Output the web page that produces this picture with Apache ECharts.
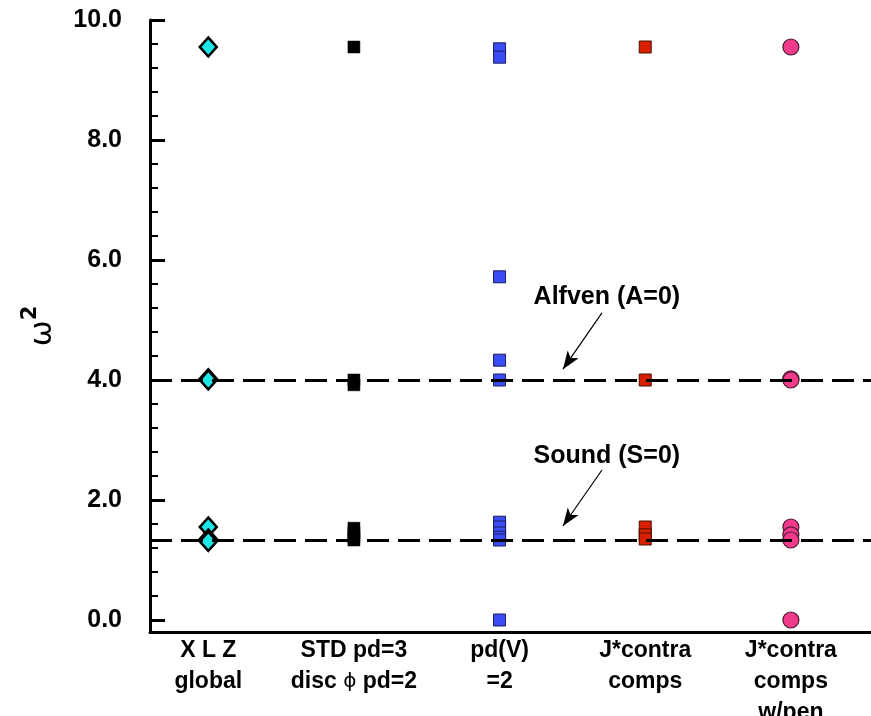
<!DOCTYPE html>
<html>
<head>
<meta charset="utf-8">
<script src="https://cdn.jsdelivr.net/npm/echarts@6/dist/echarts.min.js"></script>
<style>
  html, body { margin: 0; padding: 0; background: #fff; }
  #chart { width: 871px; height: 716px; }
</style>
</head>
<body>
<div id="chart"></div>
<script>
// Eigenvalue spectra (omega^2) for five discretisation variants
const categories = ['X L Z\nglobal', 'STD pd=3\ndisc ϕ pd=2', 'pd(V)\n=2', 'J*contra\ncomps', 'J*contra\ncomps\nw/pen'];
const xlzValues = [9.55, 4.02, 4.0, 1.55, 1.35, 1.333, 1.31];
const stdValues = [9.55, 4.0, 3.92, 1.53, 1.45, 1.38, 1.333];
const pdvValues = [9.52, 9.38, 5.72, 4.33, 4.0, 1.63, 1.55, 1.45, 1.38, 1.333, 0.0];
const jcValues = [9.55, 4.0, 1.55, 1.42, 1.35];
const jpValues = [9.55, 4.02, 4.0, 1.55, 1.42, 1.333, 0.0];

const yMajorTicks = [0, 2, 4, 6, 8, 10];
const yMinorTicks = [0.4, 0.8, 1.2, 1.6, 2.4, 2.8, 3.2, 3.6, 4.4, 4.8, 5.2, 5.6, 6.4, 6.8, 7.2, 7.6, 8.4, 8.8, 9.2, 9.6];

// continuum limits
const alfvenLevel = 4.0;
const soundLevel = 4 / 3;

// annotation anchors, in data units
const alfvenText = [3.23, 5.38];
const alfvenArrow = [[3.703, 5.12], [3.435, 4.18]];
const soundText = [3.23, 2.73];
const soundArrow = [[3.703, 2.5], [3.435, 1.567]];

const toPoints = (pos, vals) => vals.map(v => [pos, v]);

const chart = echarts.init(document.getElementById('chart'));

const labelFont = "'Liberation Sans', Arial, Helvetica, sans-serif";
const dashStyle = { type: [22, 9], width: 3, color: '#000' };
const arrowStyle = { type: 'solid', width: 1.2, color: '#000' };

chart.setOption({
  animation: false,
  backgroundColor: '#ffffff',
  grid: { left: 150, right: 0, top: 20, bottom: 84, containLabel: false, outerBoundsMode: 'none' },
  xAxis: {
    type: 'value',
    min: 0.6,
    max: 5.55,
    axisLine: { show: true, onZero: false, lineStyle: { color: '#000', width: 3 } },
    axisTick: { show: false },
    splitLine: { show: false },
    axisLabel: {
      customValues: [1, 2, 3, 4, 5],
      formatter: v => categories[Math.round(v) - 1].replace('ϕ', '{p|ϕ}'),
      color: '#000',
      fontFamily: labelFont,
      fontWeight: 'bold',
      fontSize: 23,
      lineHeight: 31,
      margin: 3,
      rich: {
        p: { fontFamily: 'DejaVu Sans', fontWeight: 'normal', fontSize: 20, color: '#000', lineHeight: 31 }
      }
    }
  },
  yAxis: [{
    type: 'value',
    min: -0.2,
    max: 10,
    position: 'left',
    name: '{w|ω}{s|2}',
    nameLocation: 'middle',
    nameRotate: 90,
    nameGap: 92,
    nameTextStyle: {
      rich: {
        w: { fontFamily: 'DejaVu Sans', fontSize: 31, color: '#000', lineHeight: 38, verticalAlign: 'bottom' },
        s: { fontFamily: 'DejaVu Sans', fontWeight: 'bold', fontSize: 21, color: '#000', lineHeight: 38, verticalAlign: 'top' }
      }
    },
    axisLine: { show: true, onZero: false, lineStyle: { color: '#000', width: 3 } },
    axisTick: { show: true, inside: true, length: 15, customValues: yMajorTicks, lineStyle: { color: '#000', width: 3 } },
    splitLine: { show: false },
    axisLabel: {
      customValues: yMajorTicks,
      formatter: v => v.toFixed(1),
      color: '#000',
      fontFamily: labelFont,
      fontWeight: 'bold',
      fontSize: 25,
      margin: 28
    }
  }, {
    type: 'value',
    min: -0.2,
    max: 10,
    position: 'left',
    offset: 0,
    axisLine: { show: false },
    axisLabel: { show: false },
    splitLine: { show: false },
    axisTick: { show: true, inside: true, length: 8, customValues: yMinorTicks, lineStyle: { color: '#000', width: 2 } }
  }],
  series: [
    {
      type: 'scatter', symbol: 'diamond', symbolSize: [17, 19], z: 3,
      itemStyle: { color: '#1fe6e6', borderColor: '#000', borderWidth: 2.5, opacity: 1 },
      data: toPoints(1, xlzValues)
    },
    {
      type: 'scatter', symbol: 'rect', symbolSize: 12, z: 3,
      itemStyle: { color: '#000', borderColor: '#000', borderWidth: 0.5, opacity: 1 },
      data: toPoints(2, stdValues)
    },
    {
      type: 'scatter', symbol: 'rect', symbolSize: 12, z: 3,
      itemStyle: { color: '#3a4cf4', borderColor: '#1c1c5c', borderWidth: 1, opacity: 1 },
      data: toPoints(3, pdvValues)
    },
    {
      type: 'scatter', symbol: 'rect', symbolSize: 12, z: 3,
      itemStyle: { color: '#d82000', borderColor: '#4a1000', borderWidth: 1, opacity: 1 },
      data: toPoints(4, jcValues)
    },
    {
      type: 'scatter', symbol: 'circle', symbolSize: 16, z: 3,
      itemStyle: { color: '#f03a8c', borderColor: '#4a1a2c', borderWidth: 1.2, opacity: 1 },
      data: toPoints(5, jpValues)
    },
    {
      // continuum levels, arrows and their captions
      type: 'scatter', z: 10, silent: true, data: [],
      markLine: {
        silent: true,
        animation: false,
        symbol: ['none', 'none'],
        data: [
          { yAxis: alfvenLevel, lineStyle: dashStyle },
          { yAxis: soundLevel, lineStyle: dashStyle },
          [
            { coord: alfvenArrow[0], symbol: 'none', lineStyle: arrowStyle },
            { coord: alfvenArrow[1], symbol: 'arrow', symbolSize: [10, 18] }
          ],
          [
            { coord: soundArrow[0], symbol: 'none', lineStyle: arrowStyle },
            { coord: soundArrow[1], symbol: 'arrow', symbolSize: [10, 18] }
          ]
        ],
        label: { show: false },
        itemStyle: { color: '#000' }
      },
      markPoint: {
        silent: true,
        animation: false,
        symbol: 'circle',
        symbolSize: 1,
        itemStyle: { color: 'rgba(0,0,0,0)' },
        label: {
          show: true,
          position: 'right',
          distance: 0,
          color: '#000',
          fontFamily: labelFont,
          fontWeight: 'bold',
          fontSize: 25
        },
        data: [
          { coord: alfvenText, label: { formatter: 'Alfven (A=0)' } },
          { coord: soundText, label: { formatter: 'Sound (S=0)' } }
        ]
      }
    }
  ]
});
</script>
</body>
</html>
